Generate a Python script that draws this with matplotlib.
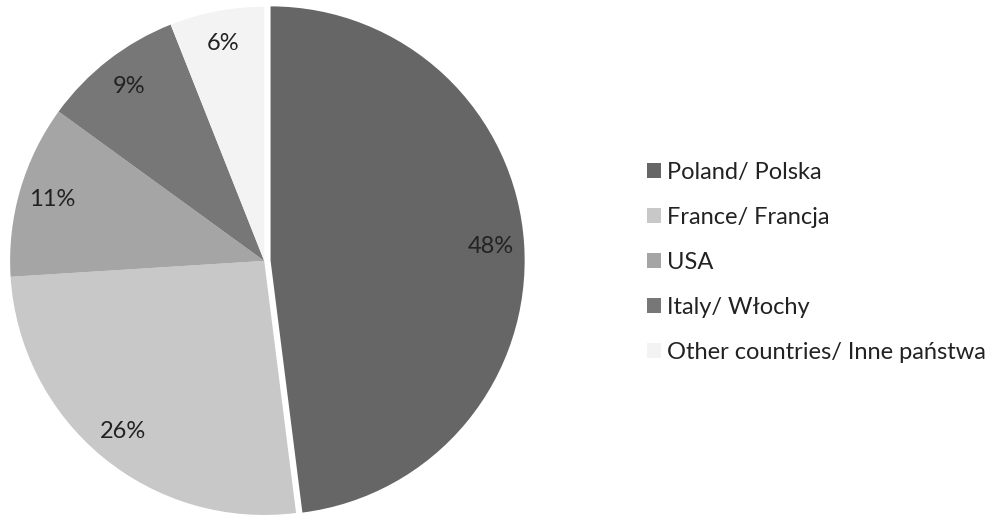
import matplotlib.pyplot as plt

plt.rcParams['font.family'] = ['Lato', 'DejaVu Sans']

labels = ['Poland/ Polska', 'France/ Francja', 'USA', 'Italy/ Włochy', 'Other countries/ Inne państwa']
shares = [48, 26, 11, 9, 6]
colors = ['#666666', '#c8c8c8', '#a5a5a5', '#777777', '#f3f3f3']
explode = [0.025, 0, 0, 0, 0]

fig = plt.figure(figsize=(9.94, 5.15), dpi=100)
ax = fig.add_axes([-0.0154, -0.0493, 0.5624, 1.0855])

wedges, texts, autotexts = ax.pie(shares, colors=colors, explode=explode, startangle=90,
                                  counterclock=False, autopct='%d%%', pctdistance=0.87,
                                  radius=1.0, textprops={'fontsize': 17, 'color': '#222222'})
ax.set_xlim(-1.1, 1.1)
ax.set_ylim(-1.1, 1.1)
ax.set_aspect('equal')
ax.axis('off')

fig.legend(wedges, labels, loc='center left', bbox_to_anchor=(0.651, 0.49),
           frameon=False, fontsize=17, handlelength=0.6, handleheight=0.6,
           handletextpad=0.25, labelspacing=1.02, borderpad=0, borderaxespad=0,
           labelcolor='#222222')

fig.savefig('out.png', dpi=100)
